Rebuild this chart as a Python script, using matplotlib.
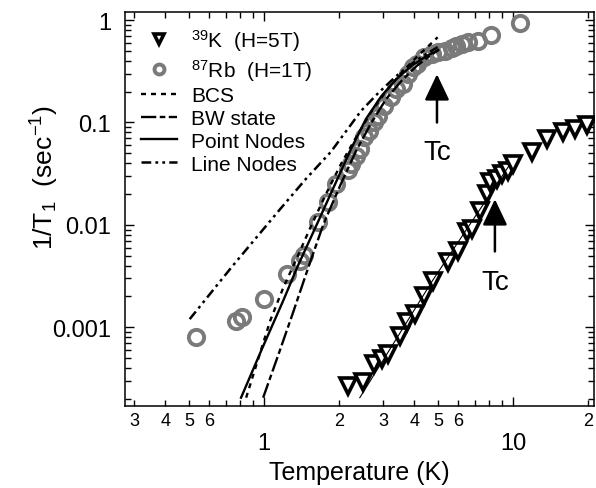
import matplotlib
matplotlib.use("Agg")
import matplotlib.pyplot as plt
from matplotlib.ticker import FixedLocator, FixedFormatter, LogLocator, NullFormatter

plt.rcParams['font.family'] = ['Liberation Sans', 'DejaVu Sans']
plt.rcParams['mathtext.fontset'] = 'custom'
plt.rcParams['mathtext.rm'] = 'Liberation Sans'
plt.rcParams['mathtext.it'] = 'Liberation Sans:italic'
plt.rcParams['mathtext.bf'] = 'Liberation Sans:bold'
plt.rcParams['lines.scale_dashes'] = False

# 87Rb data (H=1T)
rb_T = [0.53, 0.77, 0.815, 1.0, 1.24, 1.39, 1.45, 1.65, 1.80, 1.94, 2.17, 2.23, 2.34,
        2.42, 2.52, 2.63, 2.76, 2.87, 3.03, 3.24, 3.39, 3.6, 3.79, 3.97, 4.09, 4.4,
        4.7, 4.99, 5.3, 5.65, 5.9, 6.2, 6.6, 7.2, 8.15, 10.6]
rb_rate = [0.00081, 0.00116, 0.00127, 0.0019, 0.0033, 0.0044, 0.0051, 0.0107, 0.0168,
           0.025, 0.034, 0.039, 0.047, 0.055, 0.072, 0.083, 0.101, 0.116, 0.145, 0.177,
           0.212, 0.24, 0.30, 0.35, 0.37, 0.44, 0.47, 0.49, 0.50, 0.53, 0.56, 0.58, 0.61,
           0.62, 0.71, 0.93]

# 39K data (H=5T)
k_T = [2.17, 2.49, 2.76, 2.97, 3.14, 3.51, 3.74, 4.03, 4.4, 4.76, 5.47, 6.0, 6.52, 6.83,
       7.35, 7.84, 8.06, 8.6, 9.0, 9.5, 9.97, 11.9, 13.7, 15.8, 17.7, 19.8]
k_rate = [2.64e-4, 2.89e-4, 4.34e-4, 4.85e-4, 5.43e-4, 8.15e-4, 1.12e-3, 1.34e-3, 2.0e-3,
          2.81e-3, 4.31e-3, 5.52e-3, 8.47e-3, 9.06e-3, 0.0136, 0.0199, 0.0261, 0.0279,
          0.0313, 0.0334, 0.0391, 0.0513, 0.0687, 0.0804, 0.0861, 0.094]

# thin line through the K data
kfit_T = [2.42, 4.76, 9.7]
kfit_rate = [2.05e-4, 2.9e-3, 0.039]

# model curves for Rb
bcs_T = [0.846, 0.946, 1.057, 1.19, 1.36, 1.535, 1.77, 2.03, 2.34, 2.69, 3.09, 3.55, 4.09, 4.61, 4.97]
bcs_rate = [2.05e-4, 4.9e-4, 1.16e-3, 2.4e-3, 4.9e-3, 9.5e-3, 0.020, 0.039, 0.072, 0.127, 0.203, 0.304, 0.435, 0.57, 0.68]

bw_T = [0.99, 1.14, 1.30, 1.49, 1.73, 2.03, 2.34, 2.69, 3.09, 3.55, 4.09, 4.61, 5.0]
bw_rate = [2.05e-4, 5.4e-4, 1.35e-3, 3.6e-3, 0.0102, 0.025, 0.053, 0.099, 0.17, 0.254, 0.356, 0.445, 0.51]

point_T = [0.807, 0.981, 1.19, 1.36, 1.65, 1.94, 2.23, 2.56, 2.95, 3.39, 3.90, 4.48, 5.0]
point_rate = [2.05e-4, 6.2e-4, 1.8e-3, 3.9e-3, 0.0109, 0.026, 0.055, 0.108, 0.18, 0.265, 0.356, 0.445, 0.51]

line_T = [0.502, 0.742, 1.16, 1.47, 1.85, 2.45, 2.87, 3.39, 4.09, 4.97]
line_rate = [1.2e-3, 3.9e-3, 0.0143, 0.0281, 0.0515, 0.13, 0.194, 0.284, 0.407, 0.545]

minor_ticks = [0.3, 0.4, 0.5, 0.6, 0.7, 0.8, 0.9, 2, 3, 4, 5, 6, 7, 8, 9, 20]
minor_labels = ['3', '4', '5', '6', '', '', '', '2', '3', '4', '5', '6', '', '', '', '2']

fig = plt.figure(figsize=(5.96, 4.89), dpi=100)
ax = fig.add_axes([125/596, 1 - 407/489, 469/596, 394/489])

ax.plot(k_T, k_rate, ls='none', marker='v', ms=11, mfc='white', mec='black', mew=2.6,
        label=r'$^{39}$K  (H=5T)', zorder=3)
ax.plot(rb_T, rb_rate, ls='none', marker='o', ms=11, mfc='none', mec='#7a7a7a', mew=2.8,
        label=r'$^{87}$Rb  (H=1T)', zorder=2)
ax.plot(kfit_T, kfit_rate, color='black', lw=0.8, zorder=4)
ax.plot(bcs_T, bcs_rate, color='black', lw=1.7, dashes=(3.6, 3.6), label='BCS', zorder=4)
ax.plot(bw_T, bw_rate, color='black', lw=1.7, dashes=(11, 2.5, 4, 2.5), label='BW state', zorder=4)
ax.plot(point_T, point_rate, color='black', lw=1.7, label='Point Nodes', zorder=4)
ax.plot(line_T, line_rate, color='black', lw=1.8, dashes=(7, 3, 2, 3, 2, 3),
        label='Line Nodes', zorder=4)

ax.set_xscale('log')
ax.set_yscale('log')
ax.set_xlim(0.276, 21.1)
ax.set_ylim(1.7e-4, 1.2)

ax.xaxis.set_major_locator(FixedLocator([1, 10]))
ax.xaxis.set_major_formatter(FixedFormatter(['1', '10']))
ax.xaxis.set_minor_locator(FixedLocator(minor_ticks))
ax.xaxis.set_minor_formatter(FixedFormatter(minor_labels))
ax.yaxis.set_major_locator(FixedLocator([0.001, 0.01, 0.1, 1]))
ax.yaxis.set_major_formatter(FixedFormatter(['0.001', '0.01', '0.1', '1']))
ax.yaxis.set_minor_locator(LogLocator(base=10, subs=range(2, 10)))
ax.yaxis.set_minor_formatter(NullFormatter())

ax.tick_params(which='both', direction='in', top=True, right=True, width=1)
ax.tick_params(which='major', length=6.5)
ax.tick_params(which='minor', length=4.5)
ax.tick_params(axis='x', which='major', labelsize=17, pad=19)
ax.tick_params(axis='x', which='minor', labelsize=13, pad=4)
ax.tick_params(axis='y', which='major', labelsize=17, pad=10)
for s in ax.spines.values():
    s.set_linewidth(1.1)

ax.set_xlabel('Temperature (K)', fontsize=18)
ax.xaxis.set_label_coords(0.5, -0.136)
fig.text(45/596, 1 - 177/489, r'1/T$_1$  (sec$^{-1}$)', rotation=90, ha='center', va='center', fontsize=19)

arrow = dict(arrowstyle='-|>,head_length=0.8,head_width=0.38', color='black', lw=1.8,
             mutation_scale=20, shrinkA=0, shrinkB=0)
ax.annotate('', xy=(4.94, 0.296), xytext=(4.94, 0.10), arrowprops=arrow)
ax.text(4.94, 0.051, 'Tc', fontsize=20, ha='center', va='center')
ax.annotate('', xy=(8.44, 0.0178), xytext=(8.44, 0.0055), arrowprops=arrow)
ax.text(8.44, 0.00275, 'Tc', fontsize=20, ha='center', va='center')

ax.legend(loc='upper left', bbox_to_anchor=(0.035, 0.962), frameon=False, fontsize=15,
          borderpad=0, borderaxespad=0, labelspacing=0.18, handlelength=1.7,
          handletextpad=0.7, markerscale=0.65)

fig.savefig('out.png', dpi=100)
